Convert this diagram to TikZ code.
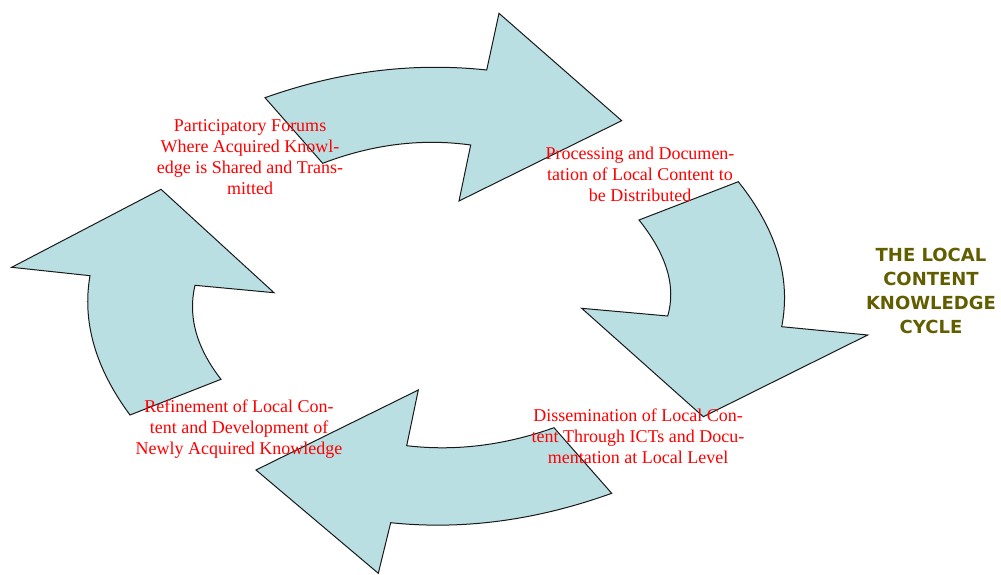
\documentclass[tikz,border=0pt]{standalone}
\usepackage{fontspec}
\setmainfont{Liberation Serif}
\newfontfamily\titlefont{DejaVu Sans}
\definecolor{arrowfill}{RGB}{185,223,227}
\definecolor{labelred}{RGB}{255,0,0}
\definecolor{titleolive}{RGB}{98,94,0}
\begin{document}
\begin{tikzpicture}[x=0.75pt,y=-0.75pt,
	cyclearrow/.style={fill=arrowfill,draw=black!90,line width=0.75pt,line join=miter},
	steplabel/.style={text=labelred,align=center,inner sep=0pt,font=\fontsize{13.5}{15.75}\selectfont}]
	\useasboundingbox (0,0) rectangle (1001,575);
			    \draw[cyclearrow] (265,97.7) .. controls (339.1,71.3) and (413.0,62.1) .. (486.7,70) -- (499,13.3) -- (621.7,120.7) -- (459,201) -- (470.7,145) .. controls (421.7,138.2) and (372.4,144.3) .. (322.7,163.3) -- cycle;
		    	\draw[cyclearrow] (738.3,181.7) .. controls (776.8,229.8) and (791.2,278.1) .. (781.7,326.7) -- (867.7,335) -- (703.3,416.7) -- (581.7,308.3) -- (667.7,316) .. controls (676.3,286.7) and (666.8,254.7) .. (639,220) -- cycle;
		    	\draw[cyclearrow] (390.7,522.7) .. controls (462.8,530.2) and (536.4,520.4) .. (611.7,493.3) -- (554,427.7) .. controls (504.4,445.4) and (455.3,451.4) .. (406.7,445.7) -- (418.3,390) -- (256,470) -- (378.3,573.3) -- cycle;
		    	\draw[cyclearrow] (130,415) .. controls (95.3,368.1) and (82,321.7) .. (90,275.7) -- (11.7,267.3) -- (161,189.3) -- (274,292.7) -- (195,285.3) .. controls (187.7,316.2) and (196.3,347.6) .. (221,379.3) -- cycle;
		    	
		    	\node[steplabel] (forums) at (250,157.5) {Participatory Forums\\Where Acquired Knowl-\\edge is Shared and Trans-\\mitted};
		    	\node[steplabel] (processing) at (640,174) {Processing and Documen-\\tation of Local Content to\\be Distributed};
		    	\node[steplabel] (dissemination) at (638,436) {Dissemination of Local Con-\\tent Through ICTs and Docu-\\mentation at Local Level};
		    	\node[steplabel] (refinement) at (239,429) {Refinement of Local Con-\\tent and Development of\\Newly Acquired Knowledge};
		    	\node[text=titleolive,align=center,inner sep=0pt,font=\titlefont\bfseries\fontsize{13.5}{18}\selectfont] (title) at (931,291) {THE LOCAL\\CONTENT\\KNOWLEDGE\\CYCLE};
		    \end{tikzpicture}
\end{document}
